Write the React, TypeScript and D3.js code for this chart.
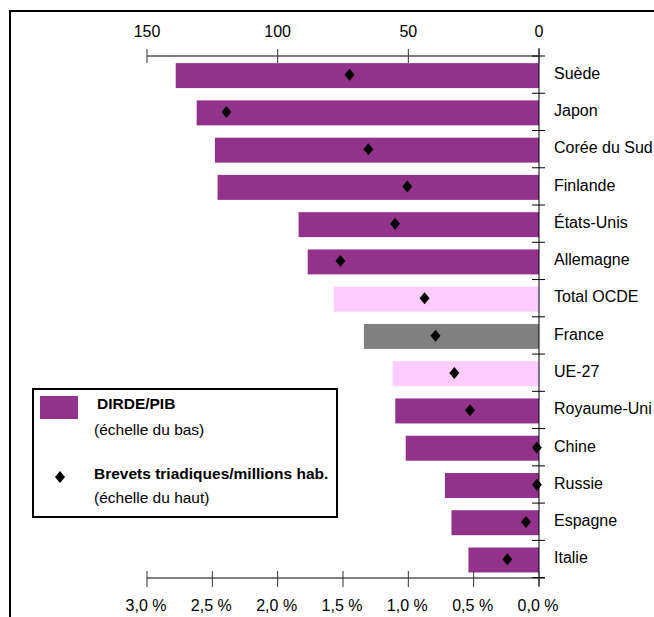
import React, { useRef, useEffect } from 'react';
import * as d3 from 'd3';

// categories from top to bottom
const countries = [
  'Suède', 'Japon', 'Corée du Sud', 'Finlande', 'États-Unis', 'Allemagne',
  'Total OCDE', 'France', 'UE-27', 'Royaume-Uni', 'Chine', 'Russie', 'Espagne', 'Italie',
];
// DIRDE/PIB, in %
const dirde = [2.78, 2.62, 2.48, 2.46, 1.84, 1.77, 1.57, 1.34, 1.12, 1.10, 1.02, 0.72, 0.67, 0.54];
// Brevets triadiques par million d'habitants
const brevets = [72.5, 119.6, 65.3, 50.4, 55.1, 76.0, 43.8, 39.6, 32.4, 26.4, 0.8, 0.8, 5.0, 12.1];
// kind of bar: country, aggregate, highlighted
const kinds = ['c', 'c', 'c', 'c', 'c', 'c', 'agg', 'fr', 'agg', 'c', 'c', 'c', 'c', 'c'];

const topTicks = [0, 50, 100, 150];
const bottomTicks = [0, 0.5, 1, 1.5, 2, 2.5, 3];

const colors: Record<string, string> = { c: '#93328b', agg: '#ffccff', fr: '#808080' };
const font = '"Liberation Sans", Arial, sans-serif';

function drawChart(el: SVGSVGElement) {
  const svg = d3.select(el);
  svg.selectAll('*').remove();

  const x0 = 539;
  const x1 = 147;
  const top = 56;
  const bottom = 578;

  const xPct = d3.scaleLinear().domain([0, 3]).range([x0, x1]);
  const xPat = d3.scaleLinear().domain([0, 150]).range([x0, x1]);
  const y = d3.scaleBand<string>().domain(countries).range([top, bottom]).paddingInner(0.33).paddingOuter(0.17);
  const step = y.step();

  // outer frame (runs off the right and bottom edges)
  svg.append('rect')
    .attr('x', 10).attr('y', 11)
    .attr('width', 700).attr('height', 700)
    .attr('fill', 'none').attr('stroke', '#000').attr('stroke-width', 2);

  // bars
  svg.selectAll('.bar')
    .data(countries)
    .enter()
    .append('rect')
    .attr('class', 'bar')
    .attr('x', (_, i) => xPct(dirde[i]))
    .attr('y', (d) => y(d)! + 0.8)
    .attr('width', (_, i) => x0 - xPct(dirde[i]))
    .attr('height', y.bandwidth())
    .attr('fill', (_, i) => colors[kinds[i]]);

  // vertical axis at zero with category ticks
  svg.append('line')
    .attr('x1', x0).attr('x2', x0).attr('y1', top - 8).attr('y2', bottom + 8)
    .attr('stroke', '#000');
  svg.selectAll('.ctick')
    .data(d3.range(countries.length + 1))
    .enter()
    .append('line')
    .attr('x1', x0 - 7).attr('x2', x0 + 6)
    .attr('y1', (i) => top + i * step).attr('y2', (i) => top + i * step)
    .attr('stroke', '#000');

  svg.selectAll('.clabel')
    .data(countries)
    .enter()
    .append('text')
    .attr('x', 554)
    .attr('y', (d) => y(d)! + y.bandwidth() / 2 - 1.5)
    .attr('dy', '0.35em')
    .attr('font-family', font).attr('font-size', 16)
    .text((d) => d);

  // top axis (patents)
  svg.append('line')
    .attr('x1', x1).attr('x2', x0).attr('y1', top).attr('y2', top)
    .attr('stroke', '#000');
  svg.selectAll('.ttick')
    .data(topTicks)
    .enter()
    .append('line')
    .attr('x1', (d) => xPat(d)).attr('x2', (d) => xPat(d))
    .attr('y1', top - 7).attr('y2', top + 7)
    .attr('stroke', '#333');
  svg.selectAll('.tlabel')
    .data(topTicks)
    .enter()
    .append('text')
    .attr('x', (d) => xPat(d)).attr('y', 37)
    .attr('text-anchor', 'middle')
    .attr('font-family', font).attr('font-size', 16)
    .text((d) => String(d));

  // bottom axis (percent of GDP)
  svg.append('line')
    .attr('x1', x1).attr('x2', x0 + 6).attr('y1', bottom).attr('y2', bottom)
    .attr('stroke', '#000');
  svg.selectAll('.btick')
    .data(bottomTicks)
    .enter()
    .append('line')
    .attr('x1', (d) => xPct(d)).attr('x2', (d) => xPct(d))
    .attr('y1', bottom - 7).attr('y2', bottom + 9)
    .attr('stroke', '#333');
  svg.selectAll('.blabel')
    .data(bottomTicks)
    .enter()
    .append('text')
    .attr('x', (d) => xPct(d) - 1).attr('y', 611)
    .attr('text-anchor', 'middle')
    .attr('font-family', font).attr('font-size', 16)
    .text((d) => d.toFixed(1).replace('.', ',') + ' %');

  // diamonds
  const diamond = 'M0,-6L5,0L0,6L-5,0Z';
  svg.selectAll('.pt')
    .data(countries)
    .enter()
    .append('path')
    .attr('d', diamond)
    .attr('transform', (d, i) => `translate(${xPat(brevets[i])},${y(d)! + y.bandwidth() / 2})`)
    .attr('fill', '#000');

  // legend
  const lg = svg.append('g');
  lg.append('rect')
    .attr('x', 33).attr('y', 389).attr('width', 304).attr('height', 128)
    .attr('fill', '#fff').attr('stroke', '#000').attr('stroke-width', 2);
  lg.append('rect')
    .attr('x', 40).attr('y', 396).attr('width', 38).attr('height', 23)
    .attr('fill', colors.c);
  lg.append('text')
    .attr('x', 97).attr('y', 409)
    .attr('font-family', font).attr('font-size', 15.5).attr('font-weight', 'bold')
    .text('DIRDE/PIB');
  lg.append('text')
    .attr('x', 94).attr('y', 435)
    .attr('font-family', font).attr('font-size', 15.5)
    .text('(échelle du bas)');
  lg.append('path')
    .attr('d', diamond)
    .attr('transform', 'translate(60,477)')
    .attr('fill', '#000');
  lg.append('text')
    .attr('x', 94).attr('y', 479)
    .attr('font-family', font).attr('font-size', 15.5).attr('font-weight', 'bold')
    .text('Brevets triadiques/millions hab.');
  lg.append('text')
    .attr('x', 94).attr('y', 503)
    .attr('font-family', font).attr('font-size', 15.5)
    .text('(échelle du haut)');
}

export default function App() {
  const ref = useRef<SVGSVGElement>(null);

  useEffect(() => {
    if (!ref.current) return;
    drawChart(ref.current);
  }, []);

  return (
    <div style={{ position: 'absolute', left: 0, top: 0, width: 654, height: 617, overflow: 'hidden', background: '#fff' }}>
      <svg ref={ref} width={654} height={617} style={{ display: 'block' }} />
    </div>
  );
}
